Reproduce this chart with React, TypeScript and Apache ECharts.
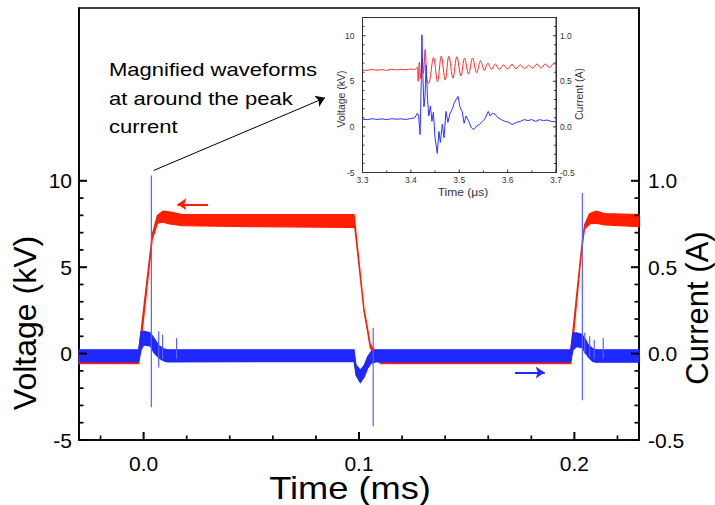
import React, { useEffect, useRef } from "react";
import * as echarts from "echarts";

// ---------- main chart axes ----------
const timeRange = [-0.03, 0.23];
const voltageRange = [-5, 20];
const currentRange = [-0.5, 2.0];
const timeTicks = [0, 0.1, 0.2];
const timeMinorTicks = [-0.02, 0.02, 0.04, 0.06, 0.08, 0.12, 0.14, 0.16, 0.18, 0.22];
const voltageTicks = [-5, 0, 5, 10];
const voltageMinorTicks = [-4, -3, -2, -1, 1, 2, 3, 4, 6, 7, 8, 9];
const currentTicks = [-0.5, 0, 0.5, 1.0];
const currentMinorTicks = [-0.4, -0.3, -0.2, -0.1, 0.1, 0.2, 0.3, 0.4, 0.6, 0.7, 0.8, 0.9];

// ---------- main chart: voltage envelope (kV) ----------
const redT = [-0.03, -0.0023, 0.004, 0.0064, 0.009, 0.012, 0.018, 0.05, 0.0977, 0.0981, 0.1023, 0.104, 0.1052, 0.107, 0.109, 0.11, 0.1983, 0.2033, 0.2047, 0.207, 0.21, 0.214, 0.23];
const redUpper = [0.1, 0.1, 6.9, 8.0, 8.25, 8.2, 8.05, 8.05, 8.05, 7.6, 2.6, 1.45, 0.55, 0.25, 0.12, 0.1, 0.1, 6.1, 7.45, 8.1, 8.25, 8.1, 8.05];
const redLower = [-0.58, -0.58, 6.6, 7.55, 7.6, 7.5, 7.4, 7.35, 7.3, 7.25, 2.45, 1.25, 0.35, -0.1, -0.45, -0.58, -0.58, 5.9, 7.2, 7.5, 7.55, 7.45, 7.35];

// ---------- main chart: current envelope (A) ----------
const blueT = [-0.03, -0.0023, -0.0012, 0.0, 0.003, 0.0048, 0.0071, 0.0094, 0.011, 0.0977, 0.0986, 0.1006, 0.1025, 0.104, 0.1056, 0.1079, 0.1983, 0.1993, 0.201, 0.2035, 0.205, 0.2065, 0.2085, 0.21, 0.23];
const blueUpper = [0.022, 0.022, 0.125, 0.13, 0.12, 0.09, 0.045, 0.028, 0.022, 0.022, -0.065, -0.095, -0.066, -0.018, 0.011, 0.022, 0.022, 0.12, 0.12, 0.11, 0.085, 0.05, 0.028, 0.022, 0.022];
const blueLower = [-0.048, -0.048, 0.02, 0.05, 0.045, 0.005, -0.025, -0.042, -0.048, -0.045, -0.124, -0.168, -0.134, -0.085, -0.056, -0.048, -0.048, 0.02, 0.04, 0.035, 0.005, -0.02, -0.045, -0.05, -0.05];

// ---------- main chart: current spikes (A) ----------
const spikeT = [0.0036, 0.007, 0.0088, 0.0153, 0.1066, 0.2037, 0.2048, 0.2071, 0.2092, 0.2134];
const spikeHigh = [1.03, 0.13, 0.11, 0.09, 0.15, 0.93, 0.12, 0.1, 0.08, 0.09];
const spikeLow = [-0.31, -0.08, -0.03, -0.03, -0.42, -0.27, 0.0, -0.02, -0.03, -0.03];

// ---------- arrows ----------
const voltageArrow = [[0.0299, 8.64], [0.0157, 8.64]];
const currentArrow = [[0.1724, -0.11], [0.1862, -0.11]];
const calloutArrow = [[0.0047, 10.6], [0.0842, 14.8]];
const calloutLines = ["Magnified waveforms", "at around the peak", "current"];

// ---------- inset ----------
const insetTimeRange = [3.3, 3.7];
const insetVoltageRange = [-5, 12];
const insetCurrentRange = [-0.5, 1.2];
const insetTimeTicks = [3.3, 3.4, 3.5, 3.6, 3.7];
const insetTimeMinorTicks = [3.35, 3.45, 3.55, 3.65];
const insetVoltageTicks = [-5, 0, 5, 10];
const insetVoltageMinorTicks = [-4, -3, -2, -1, 1, 2, 3, 4, 6, 7, 8, 9, 11];
const insetCurrentTicks = [-0.5, 0, 0.5, 1.0];
const insetCurrentMinorTicks = [-0.4, -0.3, -0.2, -0.1, 0.1, 0.2, 0.3, 0.4, 0.6, 0.7, 0.8, 0.9, 1.1];

const insetRedT = [3.3, 3.31, 3.32, 3.33, 3.34, 3.35, 3.36, 3.37, 3.38, 3.39, 3.4, 3.408, 3.413, 3.415, 3.4175, 3.42, 3.4235, 3.426, 3.4295, 3.433, 3.4365, 3.4468, 3.4551, 3.4628, 3.471, 3.4785, 3.487, 3.495, 3.5035, 3.511, 3.5192, 3.5275, 3.536, 3.544, 3.552, 3.559, 3.567, 3.5745, 3.583, 3.5917, 3.6, 3.609, 3.6175, 3.6262, 3.635, 3.6433, 3.652, 3.6607, 3.669, 3.6779, 3.6865, 3.695, 3.7];
const insetRed = [6.25, 6.2, 6.3, 6.22, 6.28, 6.2, 6.32, 6.25, 6.3, 6.26, 6.35, 6.3, 6.55, 5.0, 7.1, 5.3, 7.4, 5.9, 8.5, 5.2, 4.75, 7.6, 4.95, 7.75, 5.15, 7.75, 5.35, 7.7, 5.6, 7.55, 5.8, 7.55, 5.95, 7.25, 6.2, 7.0, 6.3, 6.9, 6.3, 6.8, 6.35, 6.85, 6.4, 6.8, 6.4, 6.75, 6.45, 6.9, 6.45, 6.9, 6.5, 6.95, 6.75];

const insetBlueT = [3.3, 3.31, 3.32, 3.33, 3.34, 3.35, 3.36, 3.37, 3.38, 3.39, 3.4, 3.408, 3.4135, 3.416, 3.419, 3.4215, 3.4228, 3.4245, 3.427, 3.4292, 3.4315, 3.4345, 3.437, 3.4405, 3.4435, 3.4465, 3.45, 3.4545, 3.458, 3.461, 3.465, 3.4685, 3.4725, 3.4765, 3.481, 3.486, 3.49, 3.4975, 3.502, 3.506, 3.51, 3.514, 3.519, 3.525, 3.53, 3.536, 3.542, 3.548, 3.553, 3.56, 3.564, 3.569, 3.574, 3.58, 3.587, 3.595, 3.603, 3.609, 3.618, 3.626, 3.634, 3.642, 3.65, 3.658, 3.666, 3.674, 3.682, 3.69, 3.7];
const insetBlue = [0.085, 0.08, 0.09, 0.082, 0.088, 0.08, 0.09, 0.085, 0.088, 0.082, 0.092, 0.1, 0.15, 0.12, -0.085, 0.5, 1.01, 0.62, 0.22, 0.33, 0.68, 0.3, 0.12, 0.23, 0.06, 0.16, -0.12, -0.29, -0.05, -0.17, 0.03, -0.12, 0.17, 0.05, 0.15, 0.2, 0.27, 0.335, 0.21, 0.17, 0.04, 0.12, 0.07, -0.01, -0.03, 0.01, 0.03, 0.06, 0.09, 0.17, 0.12, 0.15, 0.14, 0.1, 0.08, 0.06, 0.05, 0.025, 0.05, 0.06, 0.08, 0.07, 0.08, 0.06, 0.08, 0.07, 0.075, 0.06, 0.055];

const FONT = '"Liberation Sans", Arial, Helvetica, sans-serif';
const RED = "#ff1e00";
const BLUE = "#1e28ff";

const MAIN_GRID = { left: 79, top: 8, width: 560, height: 432 };
const INSET_GRID = { left: 362.5, top: 17.5, width: 193.5, height: 155 };

function bandSeries(t: number[], up: number[], lo: number[], color: string, yAxisIndex: number, z: number) {
  return {
    type: "custom",
    coordinateSystem: "cartesian2d",
    xAxisIndex: 0,
    yAxisIndex,
    silent: true,
    z,
    data: [[t[0], up[0]]],
    renderItem: (_p: any, api: any) => {
      const pts: number[][] = [];
      for (let i = 0; i < t.length; i++) pts.push(api.coord([t[i], up[i]]));
      for (let i = t.length - 1; i >= 0; i--) pts.push(api.coord([t[i], lo[i]]));
      return {
        type: "polygon",
        shape: { points: pts },
        style: { fill: color, stroke: color, lineWidth: 1.2 },
      };
    },
  };
}

function arrowLine(pair: number[][], color: string, width: number, size: number) {
  return [
    { coord: pair[0], symbol: "none", lineStyle: { color, width, type: "solid" } },
    { coord: pair[1], symbol: "arrow", symbolSize: size },
  ];
}

function text(x: number, y: number, str: string, size: number, opts: any = {}) {
  return {
    type: "text",
    x,
    y,
    rotation: opts.rotation || 0,
    scaleX: opts.scaleX || 1,
    silent: true,
    z: 100,
    style: {
      text: str,
      fontSize: size,
      fontFamily: FONT,
      fill: opts.color || "#000",
      align: opts.align || "center",
      textAlign: opts.align || "center",
      verticalAlign: "middle",
      textVerticalAlign: "middle",
    },
  };
}

// tick marks on the frame as filled rectangles, same linear mapping as the grids' axes
function ticks(values: number[], range: number[], g: any, side: string, len: number, width: number, color: string) {
  return values.map((v) => {
    const f = (v - range[0]) / (range[1] - range[0]);
    let shape: any;
    if (side === "bottom") {
      const x = g.left + f * g.width;
      shape = { x: x - width / 2, y: g.top + g.height - len, width, height: len };
    } else {
      const y = g.top + g.height - f * g.height;
      const x0 = side === "left" ? g.left : g.left + g.width - len;
      shape = { x: x0, y: y - width / 2, width: len, height: width };
    }
    return { type: "rect", z: 95, shape, style: { fill: color } };
  });
}

const tickElements = [
  ...ticks(timeTicks, timeRange, MAIN_GRID, "bottom", 8, 2, "#000"),
  ...ticks(timeMinorTicks, timeRange, MAIN_GRID, "bottom", 4.5, 1.7, "#000"),
  ...ticks(voltageTicks, voltageRange, MAIN_GRID, "left", 8, 2, "#000"),
  ...ticks(voltageMinorTicks, voltageRange, MAIN_GRID, "left", 4.5, 1.7, "#000"),
  ...ticks(currentTicks, currentRange, MAIN_GRID, "right", 8, 2, "#000"),
  ...ticks(currentMinorTicks, currentRange, MAIN_GRID, "right", 4.5, 1.7, "#000"),
  ...ticks(insetTimeTicks, insetTimeRange, INSET_GRID, "bottom", 3, 1, "#333"),
  ...ticks(insetTimeMinorTicks, insetTimeRange, INSET_GRID, "bottom", 2, 1, "#333"),
  ...ticks(insetVoltageTicks, insetVoltageRange, INSET_GRID, "left", 3, 1, "#333"),
  ...ticks(insetVoltageMinorTicks, insetVoltageRange, INSET_GRID, "left", 2, 1, "#333"),
  ...ticks(insetCurrentTicks, insetCurrentRange, INSET_GRID, "right", 3, 1, "#333"),
  ...ticks(insetCurrentMinorTicks, insetCurrentRange, INSET_GRID, "right", 2, 1, "#333"),
];

const noTick = { show: false };

const option: any = {
  animation: false,
  backgroundColor: "#fff",
  textStyle: { fontFamily: FONT },
  grid: [
    { ...MAIN_GRID, show: true, borderColor: "#000", borderWidth: 1.6, backgroundColor: "transparent" },
    { ...INSET_GRID, show: true, borderColor: "#333", borderWidth: 1, backgroundColor: "#fff", z: 10 },
  ],
  xAxis: [
    {
      type: "value", gridIndex: 0, min: timeRange[0], max: timeRange[1], position: "bottom",
      axisLine: { show: true, onZero: false, lineStyle: { color: "#000", width: 1.6 } },
      axisTick: noTick,
      axisLabel: { customValues: timeTicks, formatter: (v: number) => v.toFixed(1), fontSize: 21, color: "#000", margin: 13, fontFamily: FONT },
      splitLine: { show: false },
    },
    {
      type: "value", gridIndex: 1, min: insetTimeRange[0], max: insetTimeRange[1], position: "bottom", z: 11,
      axisLine: { show: true, onZero: false, lineStyle: { color: "#333", width: 1 } },
      axisTick: noTick,
      axisLabel: { customValues: insetTimeTicks, formatter: (v: number) => v.toFixed(1), fontSize: 8.5, color: "#333", margin: 3, fontFamily: FONT },
      splitLine: { show: false },
    },
  ],
  yAxis: [
    {
      type: "value", gridIndex: 0, min: voltageRange[0], max: voltageRange[1], position: "left",
      axisLine: { show: true, onZero: false, lineStyle: { color: "#000", width: 1.6 } },
      axisTick: noTick,
      axisLabel: { customValues: voltageTicks, formatter: (v: number) => String(v), fontSize: 21, color: "#000", margin: 7, fontFamily: FONT },
      splitLine: { show: false },
    },
    {
      type: "value", gridIndex: 0, min: currentRange[0], max: currentRange[1], position: "right",
      axisLine: { show: true, onZero: false, lineStyle: { color: "#000", width: 1.6 } },
      axisTick: noTick,
      axisLabel: { customValues: currentTicks, formatter: (v: number) => v.toFixed(1), fontSize: 21, color: "#000", margin: 9, fontFamily: FONT },
      splitLine: { show: false },
    },
    {
      type: "value", gridIndex: 1, min: insetVoltageRange[0], max: insetVoltageRange[1], position: "left", z: 11,
      axisLine: { show: true, onZero: false, lineStyle: { color: "#333", width: 1 } },
      axisTick: noTick,
      axisLabel: { customValues: insetVoltageTicks, formatter: (v: number) => String(v), fontSize: 8.5, color: "#333", margin: 8, fontFamily: FONT },
      splitLine: { show: false },
    },
    {
      type: "value", gridIndex: 1, min: insetCurrentRange[0], max: insetCurrentRange[1], position: "right", z: 11,
      axisLine: { show: true, onZero: false, lineStyle: { color: "#333", width: 1 } },
      axisTick: noTick,
      axisLabel: { customValues: insetCurrentTicks, formatter: (v: number) => v.toFixed(1), fontSize: 8.5, color: "#333", margin: 4, fontFamily: FONT },
      splitLine: { show: false },
    },
  ],
  series: [
    bandSeries(redT, redUpper, redLower, RED, 0, 2),
    bandSeries(blueT, blueUpper, blueLower, BLUE, 1, 3),
    {
      type: "custom",
      coordinateSystem: "cartesian2d",
      xAxisIndex: 0,
      yAxisIndex: 1,
      silent: true,
      z: 4,
      data: spikeT.map((t, i) => [t, spikeHigh[i], spikeLow[i]]),
      encode: { x: 0, y: [1, 2] },
      renderItem: (_p: any, api: any) => {
        const a = api.coord([api.value(0), api.value(1)]);
        const b = api.coord([api.value(0), api.value(2)]);
        return {
          type: "line",
          shape: { x1: a[0], y1: a[1], x2: b[0], y2: b[1] },
          style: { stroke: "#5863ff", lineWidth: 1.2 },
        };
      },
    },
    {
      type: "line",
      xAxisIndex: 0,
      yAxisIndex: 0,
      data: [voltageArrow[0]],
      showSymbol: false,
      silent: true,
      z: 5,
      lineStyle: { opacity: 0 },
      markLine: {
        silent: true,
        animation: false,
        label: { show: false },
        data: [arrowLine(voltageArrow, RED, 2, 9), arrowLine(calloutArrow, "#000", 1, 9)],
      },
    },
    {
      type: "line",
      xAxisIndex: 0,
      yAxisIndex: 1,
      data: [currentArrow[0]],
      showSymbol: false,
      silent: true,
      z: 5,
      lineStyle: { opacity: 0 },
      markLine: {
        silent: true,
        animation: false,
        label: { show: false },
        data: [arrowLine(currentArrow, BLUE, 2, 9)],
      },
    },
    {
      type: "line",
      xAxisIndex: 1,
      yAxisIndex: 2,
      z: 12,
      data: insetRedT.map((t, i) => [t, insetRed[i]]),
      showSymbol: false,
      silent: true,
      smooth: 0.35,
      lineStyle: { color: "#ff2a2a", width: 1 },
    },
    {
      type: "line",
      xAxisIndex: 1,
      yAxisIndex: 3,
      z: 12,
      data: insetBlueT.map((t, i) => [t, insetBlue[i]]),
      showSymbol: false,
      silent: true,
      lineStyle: { color: "#2a35ff", width: 1 },
    },
  ],
  graphic: [
    text(25, 323, "Voltage (kV)", 32, { rotation: Math.PI / 2 }),
    text(697, 308, "Current (A)", 31, { rotation: Math.PI / 2 }),
    text(350, 488, "Time (ms)", 31, { scaleX: 1.17 }),
    text(109, 69, calloutLines[0], 19, { align: "left", scaleX: 1.16 }),
    text(109, 98, calloutLines[1], 19, { align: "left", scaleX: 1.16 }),
    text(109, 126, calloutLines[2], 19, { align: "left", scaleX: 1.16 }),
    text(341, 99, "Voltage (kV)", 10.5, { rotation: Math.PI / 2, color: "#333" }),
    text(579, 94, "Current (A)", 10.5, { rotation: Math.PI / 2, color: "#333" }),
    text(463, 192, "Time (\u03bcs)", 10.5, { scaleX: 1.15, color: "#333" }),
    ...tickElements,
  ],
};

export default function App() {
  const ref = useRef<HTMLDivElement>(null);
  useEffect(() => {
    const chart = echarts.init(ref.current!, null, { renderer: "svg" });
    chart.setOption(option);
    return () => chart.dispose();
  }, []);
  return (
    <div
      ref={ref}
      style={{ position: "fixed", left: 0, top: 0, width: 715, height: 505, background: "#fff" }}
    />
  );
}
